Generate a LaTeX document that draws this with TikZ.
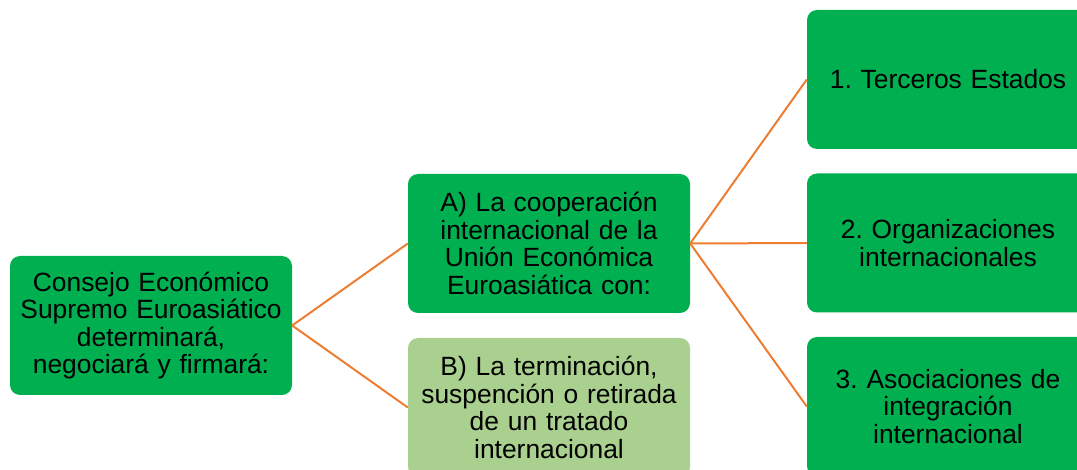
\documentclass[tikz,border=0pt]{standalone}
\usepackage{fontspec}
\setmainfont{Liberation Sans}
\frenchspacing
\definecolor{boxgreen}{HTML}{00B050}
\definecolor{palegreen}{HTML}{A9D08E}
\definecolor{linkorange}{HTML}{ED7D31}
\begin{document}
\begin{tikzpicture}[x=1pt, y=-1pt,
  box/.style={rectangle, rounded corners=10pt, fill=boxgreen, text width=276pt, inner xsep=3pt, inner ysep=0pt, minimum height=139pt, align=center, font=\fontsize{26.4}{27.6}\selectfont},
  link/.style={draw=linkorange, line width=2pt}]
\clip (0,0) rectangle (1077,470);
\node[box] (n0) at (151,325.5){Consejo Económico\\Supremo Euroasiático\\determinará,\\negociará y firmará:};
\node[box] (nA) at (549,243.5){A) La cooperación\\internacional de la\\Unión Económica\\Euroasiática con:};
\node[box, fill=palegreen] (nB) at (549,407.5){B) La terminación,\\suspención o retirada\\de un tratado\\internacional};
\node[box] (n1) at (948,79.5){1. Terceros Estados};
\node[box] (n2) at (948,243){2. Organizaciones\\internacionales};
\node[box] (n3) at (948,406.5){3. Asociaciones de\\integración\\internacional};
\draw[link](n0.east) -- (nA.west);
\draw[link](n0.east) -- (nB.west);
\draw[link](nA.east) -- (n1.west);
\draw[link](nA.east) -- (n2.west);
\draw[link](nA.east) -- (n3.west);
\end{tikzpicture}
\end{document}
